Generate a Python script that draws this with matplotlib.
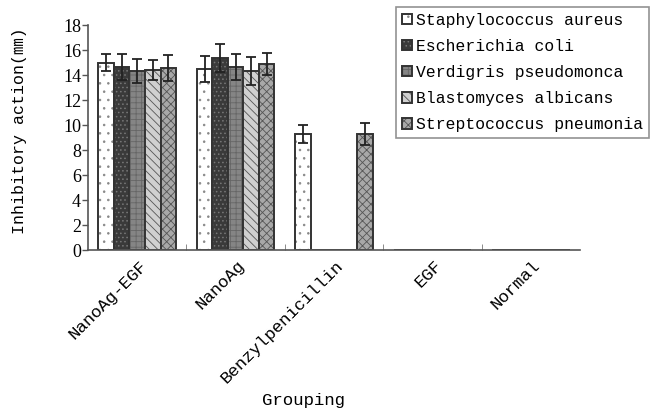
import numpy as np
import matplotlib.pyplot as plt
from matplotlib.transforms import ScaledTranslation

groups = ['NanoAg-EGF', 'NanoAg', 'Benzylpenicillin', 'EGF', 'Normal']
series = ['Staphylococcus aureus', 'Escherichia coli', 'Verdigris pseudomonca',
          'Blastomyces albicans', 'Streptococcus pneumonia']

staph = [15.0, 14.5, 9.3, 0, 0]
staph_err = [0.65, 1.05, 0.75, 0, 0]
ecoli = [14.67, 15.37, 0, 0, 0]
ecoli_err = [1.05, 1.1, 0, 0, 0]
verdi = [14.33, 14.65, 0, 0, 0]
verdi_err = [0.93, 1.05, 0, 0, 0]
blasto = [14.4, 14.33, 0, 0, 0]
blasto_err = [0.77, 1.1, 0, 0, 0]
strep = [14.54, 14.9, 9.3, 0, 0]
strep_err = [1.04, 0.9, 0.9, 0, 0]

values = [staph, ecoli, verdi, blasto, strep]
errors = [staph_err, ecoli_err, verdi_err, blasto_err, strep_err]

faces = ['white', '#3a3a3a', '#858585', '#d0d0d0', '#a8a8a8']
hatches = ['..', '....', '+++', '\\\\\\\\', 'xxxx']
hatch_cols = ['#888888', '#777777', '#666666', '#555555', '#555555']

plt.rcParams['hatch.linewidth'] = 0.6
mono = ['Liberation Mono', 'Noto Sans CJK SC']

fig = plt.figure(figsize=(6.55, 4.11), dpi=100)
ax = fig.add_axes([88 / 655, 1 - 250.5 / 411, (580 - 88) / 655, 225.5 / 411])

x = np.arange(len(groups))
w = 0.158
handles = []
for i in range(5):
    pos = x + (i - 2) * w
    b = ax.bar(pos, values[i], w, color=faces[i], edgecolor='#333333',
               linewidth=1.4, hatch=hatches[i], label=series[i], zorder=2)
    for p in b.patches:
        p._hatch_color = plt.matplotlib.colors.to_rgba(hatch_cols[i])
    handles.append(b)
    v = np.array(values[i])
    e = np.array(errors[i])
    m = v > 0
    ax.errorbar(pos[m], v[m], yerr=e[m], fmt='none', ecolor='#222222',
                elinewidth=1.3, capsize=3.5, capthick=1.3, zorder=3)

ax.set_xlim(-0.5, 4.5)
ax.set_ylim(0, 18)
ax.set_yticks(range(0, 19, 2))
ax.tick_params(axis='y', direction='out', length=4, width=1, color='#555555',
               labelsize=13, pad=1)
for t in ax.get_yticklabels():
    t.set_family('Liberation Serif')
ax.set_xticks(x)
ax.set_xticklabels(groups, rotation=45, ha='right', va='center',
                   rotation_mode='anchor', family=mono, fontsize=12.5)
ax.tick_params(axis='x', length=0, pad=9)
shift = ScaledTranslation(7 / 100, 0, fig.dpi_scale_trans)
for t in ax.get_xticklabels():
    t.set_transform(t.get_transform() + shift)
ax.set_xticks(x[:-1] + 0.5, minor=True)
ax.tick_params(axis='x', which='minor', direction='in', length=4, color='#777777')

for s in ['top', 'right']:
    ax.spines[s].set_visible(False)
for s in ['left', 'bottom']:
    ax.spines[s].set_color('#555555')
    ax.spines[s].set_linewidth(1.2)

ax.set_ylabel('Inhibitory action(㎜)', family=mono, fontsize=12)
ax.yaxis.set_label_coords(-0.124, 0.53)
ax.set_xlabel('Grouping', family=mono, fontsize=12.5)
ax.xaxis.set_label_coords(0.437, -0.63)

leg = fig.legend(handles=handles, loc='upper left', bbox_to_anchor=(396 / 655, 1 - 7 / 411),
                 prop={'family': mono, 'size': 11.8}, frameon=True, fancybox=False,
                 edgecolor='#777777', handlelength=0.6, handleheight=0.6,
                 handletextpad=0.3, borderpad=0.35, labelspacing=0.68, borderaxespad=0)
leg.get_frame().set_linewidth(1.2)

fig.savefig('out.png', dpi=100)
